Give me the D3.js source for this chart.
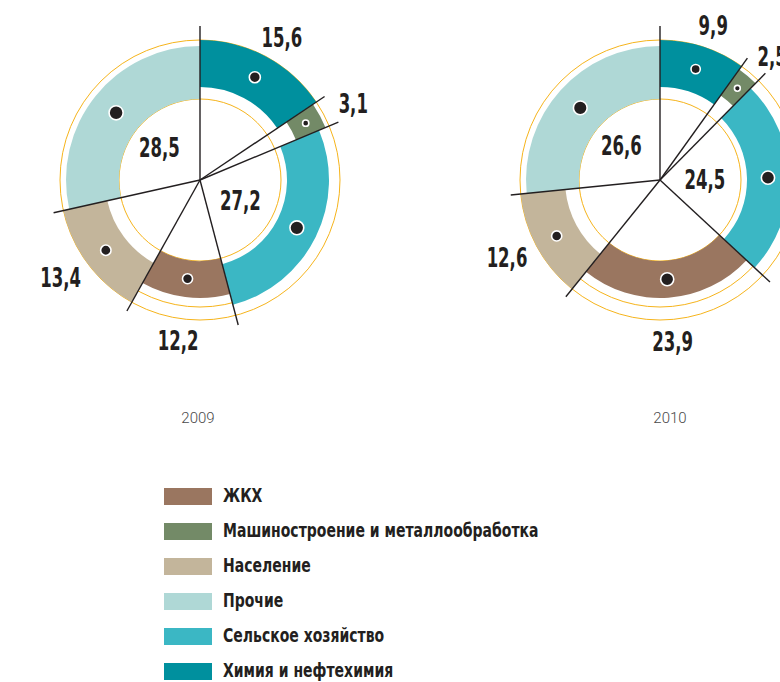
<!DOCTYPE html>
<meta charset="utf-8">
<head>
  <title>Структура потребления по отраслям, 2009–2010</title>
</head>

<style>
body {
  margin: 0;
  background: #fff;
}

#content text {
  font-family: "DejaVu Sans Condensed", "DejaVu Sans", sans-serif;
  font-weight: bold;
  fill: #231f20;
}

#content text.year {
  font-family: Roboto, "Open Sans", sans-serif;
  font-weight: 300;
  font-size: 15px;
  fill: #4a4a4a;
}
</style>

<body>
  <div id="content">
    <svg width="780" height="682"></svg>
  </div>

  <script src="https://cdnjs.cloudflare.com/ajax/libs/d3/7.8.5/d3.min.js"></script>

  <script>
  // data, clockwise from 12 o'clock
  var categories = ["Химия и нефтехимия", "Машиностроение и металлообработка", "Сельское хозяйство", "ЖКХ", "Население", "Прочие"];
  var values2009 = [15.6, 3.1, 27.2, 12.2, 13.4, 28.5];
  var values2010 = [9.9, 2.5, 24.5, 23.9, 12.6, 26.6];
  var years = ["2009", "2010"];
  var legendOrder = ["ЖКХ", "Машиностроение и металлообработка", "Население", "Прочие", "Сельское хозяйство", "Химия и нефтехимия"];

  // styling per category
  var color = d3.scaleOrdinal().domain(categories)
    .range(["#00909e", "#738a67", "#3bb7c4", "#9a7660", "#c3b59b", "#afd8d6"]);
  var ringInner = d3.scaleOrdinal().domain(categories).range([93, 104, 87, 81, 95, 81]);
  var ringOuter = d3.scaleOrdinal().domain(categories).range([140, 136, 129, 118, 140, 134]);
  var insideLabels = ["Сельское хозяйство", "Прочие"];
  var insideRadius = { "Сельское хозяйство": 45, "Прочие": 52 };

  var centers = [[200, 180], [660, 180]];
  var yearX = [198, 670];
  var guideRadii = [81, 127, 140];

  var svg = d3.select('#content svg');
  var fmt = d3.formatLocale({ decimal: ",", thousands: " ", grouping: [3], currency: ["", ""] }).format(".1f");
  var dotR = d3.scaleSqrt().domain([0, 30]).range([1.2, 7.2]);

  var pie = d3.pie().sort(null).value(function(d) { return d.value; });
  var arc = d3.arc()
    .innerRadius(function(d) { return ringInner(d.data.name); })
    .outerRadius(function(d) { return ringOuter(d.data.name); });

  function polar(r, a) { return [r * Math.sin(a), -r * Math.cos(a)]; }

  function drawDonut(values, i) {
    var rows = categories.map(function(c, j) { return { name: c, value: values[j] }; });
    var arcs = pie(rows);
    var g = svg.append('g').attr('transform', 'translate(' + centers[i] + ')');

    g.selectAll('circle.guide')
      .data(guideRadii)
      .enter().append('circle')
      .attr('class', 'guide')
      .attr('r', function(d) { return d; })
      .attr('fill', 'none')
      .attr('stroke', '#f6b41c')
      .attr('stroke-width', 1);

    g.selectAll('path.seg')
      .data(arcs)
      .enter().append('path')
      .attr('class', 'seg')
      .attr('d', arc)
      .attr('fill', function(d) { return color(d.data.name); });

    g.selectAll('circle.dot')
      .data(arcs)
      .enter().append('circle')
      .attr('class', 'dot')
      .attr('cx', function(d) { return arc.centroid(d)[0]; })
      .attr('cy', function(d) { return arc.centroid(d)[1]; })
      .attr('r', function(d) { return dotR(d.data.value); })
      .attr('fill', '#231f20')
      .attr('stroke', '#fff')
      .attr('stroke-width', 1.6);

    g.selectAll('line.sep')
      .data(arcs)
      .enter().append('line')
      .attr('class', 'sep')
      .attr('x1', 0).attr('y1', 0)
      .attr('x2', function(d) { return polar(d.startAngle === 0 ? 154 : 150, d.startAngle)[0]; })
      .attr('y2', function(d) { return polar(d.startAngle === 0 ? 154 : 150, d.startAngle)[1]; })
      .attr('stroke', '#231f20')
      .attr('stroke-width', 1.4);

    // condensed look: squeeze the bold face horizontally
    g.selectAll('text.val')
      .data(arcs)
      .enter().append('text')
      .attr('class', 'val')
      .attr('text-anchor', 'middle')
      .attr('dy', '0.36em')
      .style('font-size', '27px')
      .attr('transform', function(d) {
        var a = (d.startAngle + d.endAngle) / 2, p;
        if (insideLabels.indexOf(d.data.name) >= 0) {
          p = polar(insideRadius[d.data.name], a);
        } else {
          p = [174 * Math.sin(a), -162 * Math.cos(a)];
        }
        return 'translate(' + p + ') scale(0.68,1)';
      })
      .text(function(d) { return fmt(d.data.value); });

    svg.append('text')
      .attr('class', 'year')
      .attr('x', yearX[i])
      .attr('y', 423)
      .attr('text-anchor', 'middle')
      .text(years[i]);
  }

  drawDonut(values2009, 0);
  drawDonut(values2010, 1);

  // legend
  var legend = svg.append('g').attr('transform', 'translate(164,496)');
  var item = legend.selectAll('g')
    .data(legendOrder)
    .enter().append('g')
    .attr('transform', function(d, i) { return 'translate(0,' + (i * 35) + ')'; });

  item.append('rect')
    .attr('x', 0).attr('y', -8)
    .attr('width', 48).attr('height', 17)
    .attr('fill', function(d) { return color(d); });

  item.append('text')
    .attr('dy', '0.34em')
    .attr('transform', 'translate(59,0) scale(0.82,1)')
    .style('font-size', '19px')
    .text(function(d) { return d; });
  </script>
</body>
</html>
